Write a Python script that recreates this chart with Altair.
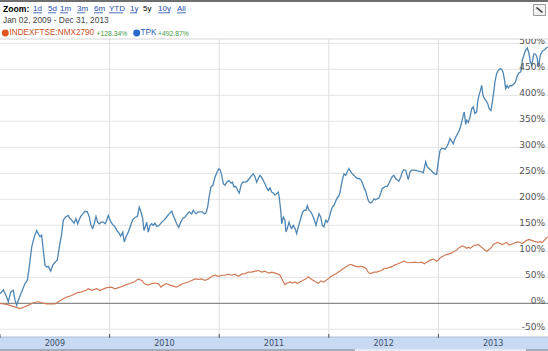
import altair as alt
import pandas as pd

# ---------------- data ----------------
# time in years since 2009-01-01, value = % change since Jan 02, 2009
tpk_t = [
    0.000, 0.030, 0.055, 0.076, 0.098, 0.121, 0.137, 0.152, 0.167, 0.198,
    0.228, 0.249, 0.267, 0.289, 0.313, 0.335, 0.349, 0.365, 0.380, 0.395,
    0.411, 0.426, 0.441, 0.463, 0.481, 0.502, 0.523, 0.541, 0.563, 0.578,
    0.599, 0.623, 0.639, 0.654, 0.675, 0.693, 0.709, 0.721, 0.736, 0.755,
    0.776, 0.797, 0.815, 0.830, 0.846, 0.860, 0.876, 0.891, 0.906, 0.922,
    0.943, 0.961, 0.974, 0.988, 1.004, 1.019, 1.034, 1.049, 1.070, 1.089,
    1.101, 1.120, 1.134, 1.150, 1.171, 1.193, 1.211, 1.232, 1.253, 1.271,
    1.286, 1.302, 1.314, 1.326, 1.338, 1.353, 1.369, 1.384, 1.399, 1.414,
    1.430, 1.453, 1.475, 1.496, 1.521, 1.542, 1.567, 1.581, 1.597, 1.612,
    1.630, 1.649, 1.667, 1.688, 1.709, 1.727, 1.749, 1.764, 1.788, 1.809,
    1.828, 1.846, 1.864, 1.880, 1.895, 1.907, 1.925, 1.943, 1.962, 1.980,
    1.998, 2.010, 2.023, 2.037, 2.053, 2.068, 2.089, 2.108, 2.120, 2.135,
    2.151, 2.169, 2.183, 2.199, 2.214, 2.235, 2.256, 2.275, 2.297, 2.311,
    2.327, 2.342, 2.357, 2.372, 2.388, 2.402, 2.418, 2.433, 2.448, 2.463,
    2.479, 2.494, 2.509, 2.525, 2.539, 2.548, 2.561, 2.570, 2.585, 2.600,
    2.609, 2.621, 2.637, 2.652, 2.661, 2.676, 2.692, 2.707, 2.722, 2.744,
    2.762, 2.776, 2.792, 2.804, 2.819, 2.835, 2.853, 2.868, 2.883, 2.895,
    2.911, 2.926, 2.941, 2.956, 2.972, 2.986, 3.002, 3.017, 3.032, 3.047,
    3.066, 3.081, 3.096, 3.109, 3.123, 3.139, 3.154, 3.169, 3.184, 3.200,
    3.214, 3.230, 3.245, 3.260, 3.278, 3.294, 3.309, 3.324, 3.339, 3.355,
    3.367, 3.382, 3.397, 3.412, 3.428, 3.443, 3.458, 3.474, 3.488, 3.504,
    3.519, 3.534, 3.549, 3.565, 3.579, 3.595, 3.610, 3.625, 3.640, 3.656,
    3.671, 3.686, 3.702, 3.725, 3.741, 3.756, 3.786, 3.817, 3.848, 3.862,
    3.884, 3.899, 3.914, 3.932, 3.944, 3.963, 3.984, 3.999, 4.015, 4.030,
    4.045, 4.060, 4.076, 4.090, 4.106, 4.121, 4.136, 4.151, 4.167, 4.182,
    4.197, 4.213, 4.227, 4.236, 4.249, 4.258, 4.273, 4.288, 4.304, 4.318,
    4.334, 4.349, 4.358, 4.370, 4.382, 4.395, 4.407, 4.419, 4.434, 4.450,
    4.464, 4.480, 4.492, 4.505, 4.516, 4.532, 4.547, 4.562, 4.577, 4.589,
    4.601, 4.614, 4.626, 4.638, 4.653, 4.669, 4.683, 4.699, 4.708, 4.720,
    4.735, 4.751, 4.760, 4.765, 4.781, 4.796, 4.811, 4.827, 4.839, 4.851,
    4.863, 4.872, 4.888, 4.902, 4.911, 4.918, 4.930, 4.948, 4.966, 4.979,
    4.997,
]
tpk_v = [
    18, 26, 15, 3, 22, 25, 6, -4, 6, 22,
    38, 44, 70, 108, 128, 140, 134, 128, 131, 102,
    73, 70, 71, 62, 73, 79, 83, 108, 134, 160,
    166, 169, 163, 160, 154, 163, 153, 160, 167, 172,
    177, 176, 166, 150, 144, 153, 167, 156, 153, 156,
    156, 153, 160, 169, 160, 154, 150, 147, 139, 134,
    129, 137, 118, 128, 137, 150, 161, 165, 167, 185,
    176, 163, 140, 147, 156, 137, 150, 153, 150, 154,
    148, 150, 156, 160, 166, 172, 177, 169, 161, 153,
    146, 156, 163, 166, 172, 176, 172, 179, 172, 176,
    176, 176, 172, 174, 185, 204, 224, 227, 243, 252,
    259, 256, 246, 230, 227, 233, 236, 231, 233, 224,
    225, 217, 212, 227, 233, 233, 235, 240, 246, 249,
    243, 233, 240, 246, 242, 236, 230, 222, 217, 222,
    214, 212, 208, 211, 214, 204, 179, 153, 166, 160,
    137, 144, 156, 147, 144, 150, 144, 134, 147, 163,
    176, 179, 179, 188, 179, 176, 169, 160, 150, 160,
    172, 166, 150, 147, 160, 156, 163, 176, 185, 188,
    198, 204, 208, 221, 237, 249, 246, 253, 259, 253,
    249, 246, 243, 240, 240, 237, 230, 221, 214, 201,
    195, 193, 195, 201, 199, 201, 203, 212, 221, 223,
    225, 225, 231, 238, 244, 246, 240, 237, 235, 243,
    253, 257, 256, 238, 253, 256, 256, 254, 253, 251,
    272, 262, 259, 256, 253, 249, 248, 272, 294, 298,
    298, 296, 301, 307, 317, 312, 307, 317, 323, 329,
    336, 349, 362, 368, 344, 352, 348, 358, 374, 378,
    365, 368, 387, 400, 408, 419, 400, 394, 390, 384,
    374, 371, 387, 406, 426, 442, 448, 451, 450, 445,
    432, 413, 419, 414, 419, 418, 421, 424, 429, 438,
    443, 445, 454, 467, 478, 487, 491, 480, 464, 458,
    471, 480, 479, 471, 454, 461, 477, 485, 487, 490,
    492.87,
]

idx_t = [
    0.000, 0.061, 0.121, 0.182, 0.219, 0.258, 0.304, 0.349, 0.380, 0.426,
    0.502, 0.532, 0.563, 0.609, 0.654, 0.700, 0.745, 0.785, 0.806, 0.837,
    0.882, 0.912, 0.974, 1.019, 1.049, 1.095, 1.141, 1.186, 1.232, 1.262,
    1.293, 1.317, 1.353, 1.384, 1.414, 1.444, 1.469, 1.490, 1.521, 1.551,
    1.581, 1.612, 1.642, 1.672, 1.718, 1.749, 1.779, 1.809, 1.840, 1.870,
    1.901, 1.932, 1.962, 1.992, 2.023, 2.053, 2.083, 2.114, 2.144, 2.174,
    2.205, 2.235, 2.265, 2.297, 2.327, 2.357, 2.388, 2.418, 2.448, 2.479,
    2.525, 2.555, 2.579, 2.600, 2.621, 2.646, 2.671, 2.692, 2.713, 2.737,
    2.762, 2.792, 2.813, 2.835, 2.859, 2.883, 2.904, 2.926, 2.950, 2.974,
    2.995, 3.017, 3.041, 3.066, 3.087, 3.109, 3.132, 3.157, 3.178, 3.200,
    3.224, 3.248, 3.269, 3.291, 3.315, 3.339, 3.360, 3.376, 3.391, 3.412,
    3.437, 3.461, 3.483, 3.504, 3.528, 3.552, 3.574, 3.595, 3.620, 3.643,
    3.665, 3.686, 3.711, 3.741, 3.786, 3.817, 3.848, 3.871, 3.893, 3.923,
    3.954, 3.984, 3.999, 4.015, 4.030, 4.054, 4.076, 4.097, 4.121, 4.145,
    4.167, 4.182, 4.197, 4.213, 4.227, 4.243, 4.258, 4.273, 4.288, 4.304,
    4.318, 4.334, 4.349, 4.364, 4.380, 4.395, 4.410, 4.425, 4.441, 4.455,
    4.471, 4.486, 4.501, 4.516, 4.541, 4.562, 4.583, 4.601, 4.623, 4.644,
    4.662, 4.683, 4.705, 4.723, 4.744, 4.765, 4.784, 4.806, 4.827, 4.851,
    4.875, 4.897, 4.911, 4.927, 4.942, 4.957, 4.973, 4.988, 4.997,
]
idx_v = [
    0, -2, -6, -10, -7, -4, 1, 3, 1, -1,
    -1, 3, 7, 12, 15, 20, 22, 25, 28, 25,
    28, 25, 30, 31, 28, 31, 35, 38, 42, 47,
    44, 38, 35, 38, 39, 38, 31, 35, 38, 35,
    33, 31, 35, 38, 41, 44, 47, 46, 47, 44,
    47, 52, 54, 52, 54, 54, 56, 54, 56, 52,
    56, 57, 60, 60, 62, 63, 60, 62, 58, 60,
    57, 54, 44, 36, 39, 41, 39, 41, 38, 41,
    44, 47, 51, 47, 44, 41, 38, 43, 41, 44,
    47, 51, 54, 57, 60, 63, 67, 70, 73, 75,
    73, 71, 70, 71, 70, 67, 60, 57, 58, 60,
    60, 62, 63, 67, 67, 69, 70, 73, 75, 77,
    79, 81, 79, 78, 79, 78, 79, 76, 79, 83,
    85, 81, 83, 87, 89, 92, 94, 95, 97, 100,
    102, 106, 108, 110, 110, 108, 106, 108, 106, 108,
    110, 112, 112, 113, 110, 108, 105, 102, 100, 102,
    105, 108, 113, 115, 117, 115, 113, 115, 117, 112,
    113, 115, 117, 118, 117, 115, 118, 121, 123, 121,
    119, 118, 117, 119, 117, 119, 123, 126, 128.34,
]

y_ticks = [-50, 0, 50, 100, 150, 200, 250, 300, 350, 400, 450, 500]
y_tick_labels = ["-50%", "0%", "50%", "100%", "150%", "200%", "250%",
                 "300%", "350%", "400%", "450%", "500%"]
years = [2009, 2010, 2011, 2012, 2013]
year_labels = ["2009", "2010", "2011", "2012", "2013"]
zoom_links = ["1d", "5d", "1m", "3m", "6m", "YTD", "1y", "5y", "10y", "All"]
series_names = ["INDEXFTSE:NMX2790", "TPK"]
series_changes = ["+128.34%", "+492.87%"]
date_range = "Jan 02, 2009 - Dec 31, 2013"

# ---------------- styling / layout ----------------
W, H = 548, 298
BLUE_LINE = "#4f86b3"
ORANGE_LINE = "#cf7b58"
FONT = "Liberation Sans"
AXFONT = "DejaVu Sans"

xs = alt.Scale(domain=[2009.0, 2014.0], nice=False, zero=False)
ys = alt.Scale(domain=[-64.8, 508.3], nice=False, zero=False)

tpk = pd.DataFrame({"t": [2009 + a for a in tpk_t], "v": tpk_v})
idx = pd.DataFrame({"t": [2009 + a for a in idx_t], "v": idx_v})
ticks_df = pd.DataFrame({"v": y_ticks, "lab": y_tick_labels})
years_df = pd.DataFrame({"yr": years, "mid": [y + 0.5 for y in years], "lab": year_labels})
one = pd.DataFrame({"k": [0]})


def X(f):
    return alt.X(f, scale=xs, axis=None)


def Y(f):
    return alt.Y(f, scale=ys, axis=None)


hgrid = alt.Chart(ticks_df).transform_filter("datum.v != 0").mark_rule(
    color="#e4e4e4", strokeWidth=1).encode(y=Y("v:Q"))
zero_line = alt.Chart(ticks_df).transform_filter("datum.v == 0").mark_rule(
    color="#707070", strokeWidth=1).encode(y=Y("v:Q"))
vgrid = alt.Chart(years_df).transform_filter("datum.yr > 2009").mark_rule(
    color="#dedede", strokeWidth=1).encode(x=X("yr:Q"))
top_border = alt.Chart(one).mark_rule(color="#d6d6d6").encode(
    x=alt.value(0), x2=alt.value(W), y=alt.value(0))

line_idx = alt.Chart(idx).mark_line(color=ORANGE_LINE, strokeWidth=1.2).encode(
    x=X("t:Q"), y=Y("v:Q"))
line_tpk = alt.Chart(tpk).mark_line(color=BLUE_LINE, strokeWidth=1.3).encode(
    x=X("t:Q"), y=Y("v:Q"))

ylabels = alt.Chart(ticks_df).mark_text(
    align="right", baseline="alphabetic", dy=1, fontSize=9, font=AXFONT,
    color="#555555", clip=True).encode(
    x=alt.value(545), y=Y("v:Q"), text="lab:N")

# navigator band at the bottom
nav_band = alt.Chart(one).mark_rect(color="#c8daf1").encode(
    x=alt.value(0), x2=alt.value(W), y=alt.value(H), y2=alt.value(H + 14))
nav_top = alt.Chart(one).mark_rule(color="#a9bdd8").encode(
    x=alt.value(0), x2=alt.value(W), y=alt.value(H))
nav_strip = alt.Chart(one).mark_rect(color="#a4adb8").encode(
    x=alt.value(0), x2=alt.value(W), y=alt.value(H + 12), y2=alt.value(H + 14))
nav_win = alt.Chart(one).mark_rect(color="#e6ebf2").encode(
    x=alt.value(355), x2=alt.value(526), y=alt.value(H + 12), y2=alt.value(H + 14))
nav_ticks = alt.Chart(years_df).mark_rule(color="#555555").encode(
    x=X("yr:Q"), y=alt.value(H - 3), y2=alt.value(H + 1))
nav_labels = alt.Chart(years_df).mark_text(
    fontSize=8, font=AXFONT, color="#3b4d6e", baseline="middle").encode(
    x=X("mid:Q"), y=alt.value(H + 7), text="lab:N")

# header
link_x = [33, 48, 60, 77, 94, 109, 130, 143, 158, 177]
link_w = [9, 8, 8, 8, 9, 14, 7, 0, 12, 9]
hdr_rows = [
    {"px": 3, "py": -19, "txt": date_range, "col": "#444444", "fs": 8.4},
    {"px": 9.5, "py": -6, "txt": series_names[0], "col": "#cc4f25", "fs": 8.2},
    {"px": 96.5, "py": -5.5, "txt": series_changes[0], "col": "#3f9a3f", "fs": 6.8},
    {"px": 140.5, "py": -6, "txt": series_names[1], "col": "#1f5fbf", "fs": 8.2},
    {"px": 158, "py": -5.5, "txt": series_changes[1], "col": "#3f9a3f", "fs": 6.8},
]
for lx, lt in zip(link_x, zoom_links):
    hdr_rows.append({"px": lx, "py": -30, "txt": lt,
                     "col": "#000000" if lt == "5y" else "#1f4fa8", "fs": 8})
hdr = pd.DataFrame(hdr_rows)
hdr_text = alt.Chart(hdr).mark_text(align="left", baseline="middle", font=FONT).encode(
    x=alt.X("px:Q", scale=None), y=alt.Y("py:Q", scale=None), text="txt:N",
    color=alt.Color("col:N", scale=None),
    size=alt.Size("fs:Q", scale=None))
zoom_word = alt.Chart(one).mark_text(
    align="left", baseline="middle", font=FONT, fontSize=8.6, fontWeight="bold",
    color="#000000", text="Zoom:").encode(x=alt.value(3), y=alt.value(-30))

ul = pd.DataFrame({"x0": link_x, "x1": [a + b for a, b in zip(link_x, link_w)]})
ul = ul[ul.x1 > ul.x0]
underlines = alt.Chart(ul).mark_rule(color="#1f4fa8", strokeWidth=0.8).encode(
    x=alt.X("x0:Q", scale=None), x2="x1:Q", y=alt.value(-26.2))

dots = pd.DataFrame({"px": [5.3, 136.7], "col": ["#e0561c", "#2468c8"]})
legend_dots = alt.Chart(dots).mark_circle(size=48, opacity=1).encode(
    x=alt.X("px:Q", scale=None), y=alt.value(-6), color=alt.Color("col:N", scale=None))

top_line = alt.Chart(one).mark_rule(color="#6e6e6e", strokeWidth=2).encode(
    x=alt.value(0), x2=alt.value(W), y=alt.value(-38))
icon_box = alt.Chart(one).mark_rect(fill="#f2f2f2", stroke="#9a9a9a", strokeWidth=1).encode(
    x=alt.value(533.5), x2=alt.value(545.5), y=alt.value(-34.5), y2=alt.value(-23.5))
icon_arrow = alt.Chart(one).mark_rule(color="#333333", strokeWidth=1.6).encode(
    x=alt.value(536.5), x2=alt.value(542.5), y=alt.value(-31.5), y2=alt.value(-26.5))

chart = alt.layer(
    hgrid, vgrid, top_border, zero_line, line_idx, line_tpk, ylabels,
    nav_band, nav_top, nav_strip, nav_win, nav_ticks, nav_labels,
    hdr_text, zoom_word, underlines, legend_dots, top_line, icon_box, icon_arrow,
).properties(
    width=W, height=H,
    padding={"left": 0, "right": 0, "top": 39, "bottom": 14},
    autosize=alt.AutoSizeParams(type="none"),
    background="white",
).configure_view(stroke=None)

chart.save("out.html", embed_options={"renderer": "svg", "actions": False})
